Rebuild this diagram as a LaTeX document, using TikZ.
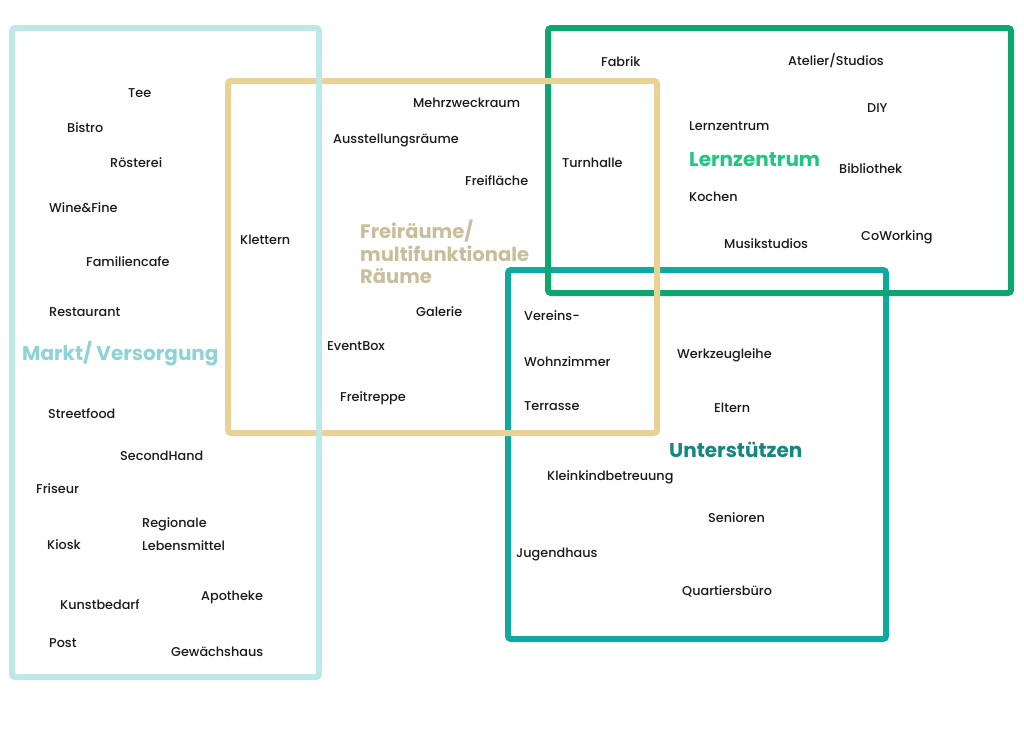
\documentclass[tikz,border=0pt]{standalone}
\usepackage{fontspec}
\setmainfont{Poppins}
\newfontfamily\medfont{Poppins Medium}
\definecolor{cBlue}{HTML}{BFE7E8}
\definecolor{cBlueT}{HTML}{8ED3D5}
\definecolor{cBeige}{HTML}{E8D296}
\definecolor{cBeigeT}{HTML}{C9BD9B}
\definecolor{cGreen}{HTML}{0DA66E}
\definecolor{cGreenT}{HTML}{20C77F}
\definecolor{cTeal}{HTML}{0FA9A1}
\definecolor{cTealT}{HTML}{16877E}
\definecolor{cText}{HTML}{1A1A1A}
\begin{document}
\begin{tikzpicture}[x=1pt,y=-1pt,
  frame/.style={line width=6pt,rounded corners=3pt},
  lbl/.style={anchor=west,inner sep=0pt,text=cText,font=\medfont\fontsize{12.8}{14}\selectfont},
  ttl/.style={anchor=west,inner sep=0pt,font=\fontsize{20}{23}\selectfont\bfseries}]
\useasboundingbox (0,0) rectangle (1024,731);
\fill[white] (0,0) rectangle (1024,731);
% frames
\draw[frame,cTeal] (508,270) rectangle (886,639);
\draw[frame,cGreen] (548,28) rectangle (1011,293);
\draw[frame,cBeige] (228,81) rectangle (657,433);
\draw[frame,cBlue] (12,28) rectangle (319,677);
% titles
\node[ttl,text=cBlueT] (tmarkt) at (22,354) {Markt/ Versorgung};
\node[ttl,text=cBeigeT,align=left,font=\fontsize{19.5}{22.5}\selectfont\bfseries] (tfrei) at (360,252) {Freiräume/\\multifunktionale\\Räume};
\node[ttl,text=cGreenT] (tlern) at (689,160) {Lernzentrum};
\node[ttl,text=cTealT] (tunt) at (669,450) {Unterstützen};
% Markt
\node[lbl] (tee) at (128,93) {Tee};
\node[lbl] (bistro) at (67,128) {Bistro};
\node[lbl] (roest) at (110,163) {Rösterei};
\node[lbl] (wine) at (49,208) {Wine\&Fine};
\node[lbl] (famc) at (86,262) {Familiencafe};
\node[lbl] (rest) at (49,312) {Restaurant};
\node[lbl] (street) at (48,414) {Streetfood};
\node[lbl] (second) at (120,456) {SecondHand};
\node[lbl] (fris) at (36,489) {Friseur};
\node[lbl] (regio) at (142,524) {Regionale};
\node[lbl] (lebens) at (142,546) {Lebensmittel};
\node[lbl] (kiosk) at (47,545) {Kiosk};
\node[lbl] (kunst) at (60,605) {Kunstbedarf};
\node[lbl] (apo) at (201,597) {Apotheke};
\node[lbl] (post) at (49,643) {Post};
\node[lbl] (gew) at (171,652) {Gewächshaus};
% Freiraeume
\node[lbl] (klet) at (240,240) {Klettern};
\node[lbl] (mehr) at (413,103) {Mehrzweckraum};
\node[lbl] (auss) at (333,141) {Ausstellungsräume};
\node[lbl] (freifl) at (465,181) {Freifläche};
\node[lbl] (gal) at (416,312) {Galerie};
\node[lbl] (event) at (327,346) {EventBox};
\node[lbl] (freit) at (340,398) {Freitreppe};
\node[lbl] (turn) at (562,163) {Turnhalle};
\node[lbl] (ver) at (524,316) {Vereins-};
\node[lbl] (wohn) at (524,362) {Wohnzimmer};
\node[lbl] (terr) at (524,406) {Terrasse};
% Lernzentrum
\node[lbl] (fab) at (601,62) {Fabrik};
\node[lbl] (atel) at (788,61) {Atelier/Studios};
\node[lbl] (diy) at (867,108) {DIY};
\node[lbl] (lern) at (689,126) {Lernzentrum};
\node[lbl] (bib) at (839,169) {Bibliothek};
\node[lbl] (koch) at (689,197) {Kochen};
\node[lbl] (musik) at (724,244) {Musikstudios};
\node[lbl] (cow) at (861,237) {CoWorking};
% Unterstuetzen
\node[lbl] (werk) at (677,355) {Werkzeugleihe};
\node[lbl] (elt) at (714,408) {Eltern};
\node[lbl] (klein) at (547,477) {Kleinkindbetreuung};
\node[lbl] (sen) at (708,518) {Senioren};
\node[lbl] (jug) at (516,554) {Jugendhaus};
\node[lbl] (quart) at (682,591) {Quartiersbüro};
\end{tikzpicture}
\end{document}
